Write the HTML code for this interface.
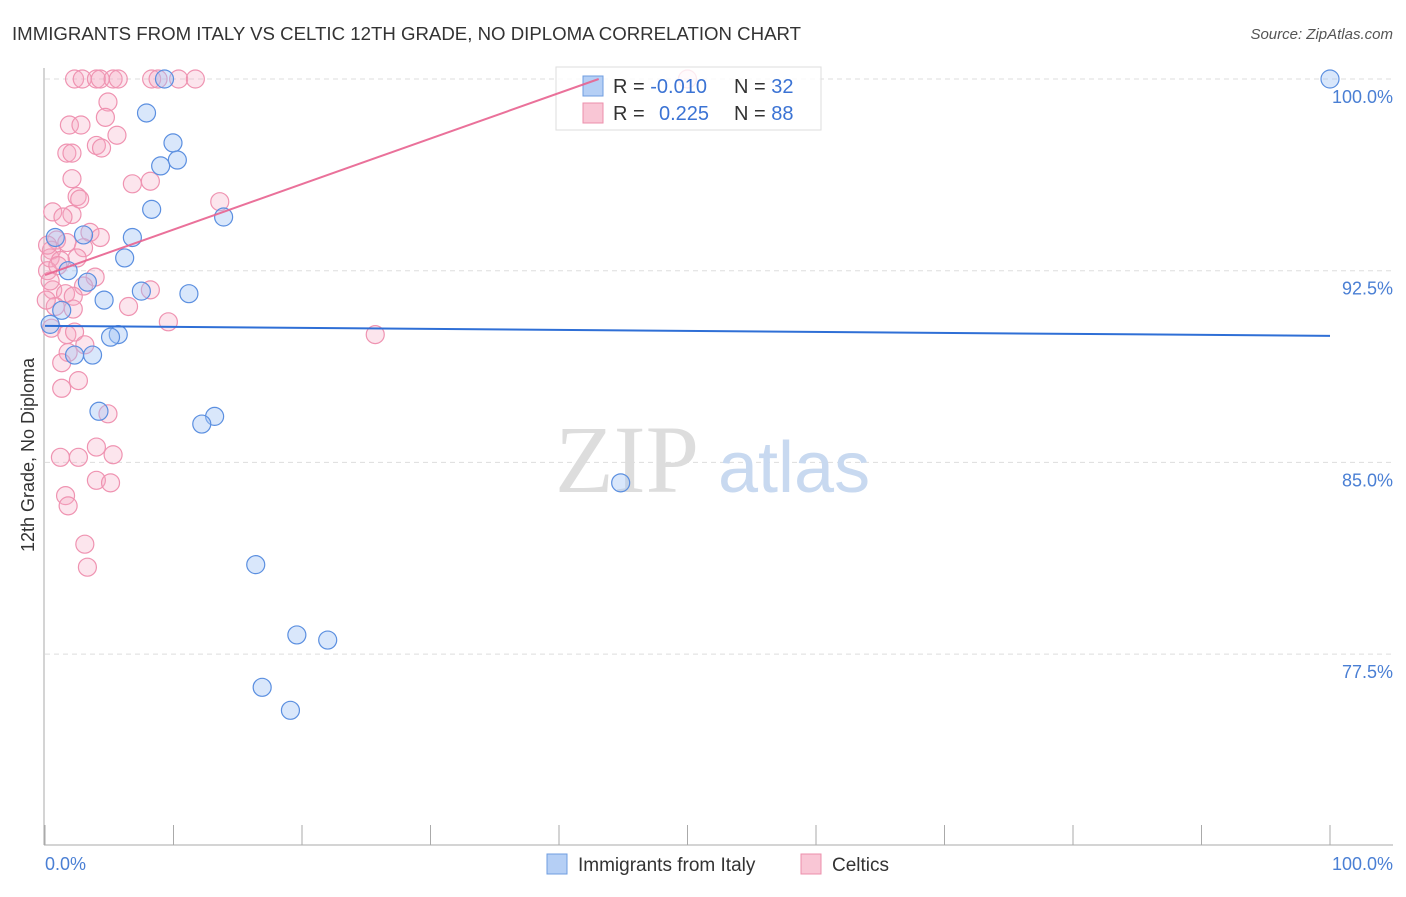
<!DOCTYPE html>
<html><head><meta charset="utf-8"><style>
body{margin:0;background:#fff;font-family:"Liberation Sans",sans-serif}
</style></head><body>
<svg width="1406" height="892" xmlns="http://www.w3.org/2000/svg" font-family="Liberation Sans, sans-serif">
<text x="12" y="40" font-size="18" fill="#333" textLength="789" lengthAdjust="spacingAndGlyphs">IMMIGRANTS FROM ITALY VS CELTIC 12TH GRADE, NO DIPLOMA CORRELATION CHART</text>
<text x="1393" y="39" font-size="15" fill="#555" font-style="italic" text-anchor="end">Source: ZipAtlas.com</text>
<g id="grid"></g>
<text x="555" y="492" font-size="96" fill="#ddd" font-family="Liberation Serif, serif">ZIP</text>
<text x="718" y="492" font-size="72" fill="#c8d9f0">atlas</text>
<line x1="44" y1="68" x2="44" y2="845" stroke="#aaa"/>
<line x1="44" y1="845" x2="1393" y2="845" stroke="#aaa"/>
<text transform="translate(34,455) rotate(-90)" font-size="18" fill="#333" text-anchor="middle">12th Grade, No Diploma</text>
<text x="45" y="870" font-size="18" fill="#4a7fd4">0.0%</text>
<text x="1393" y="870" font-size="18" fill="#4a7fd4" text-anchor="end">100.0%</text>
<g id="pts"></g>
<g>
<rect x="556" y="67" width="265" height="63" fill="#fff" fill-opacity="0.8" stroke="#ddd"/>
<rect x="583" y="76" width="20" height="20" fill="#b5cff5" stroke="#6f9de0"/>
<rect x="583" y="103" width="20" height="20" fill="#f9c6d5" stroke="#ec8fab"/>
<text x="613" y="93" font-size="20" fill="#333">R = <tspan fill="#3b73d4">-0.010</tspan><tspan x="734">N = </tspan><tspan fill="#3b73d4">32</tspan></text>
<text x="613" y="120" font-size="20" fill="#333">R = <tspan x="659" fill="#3b73d4">0.225</tspan><tspan x="734">N = </tspan><tspan fill="#3b73d4">88</tspan></text>
</g>
<g id="lines"></g>
<g>
<rect x="547" y="854" width="20" height="20" fill="#b5cff5" stroke="#6f9de0"/>
<text x="578" y="871" font-size="19" fill="#333">Immigrants from Italy</text>
<rect x="801" y="854" width="20" height="20" fill="#f9c6d5" stroke="#ec8fab"/>
<text x="832" y="871" font-size="19" fill="#333">Celtics</text>
</g>
</svg>
<script>
const yTicks=[100,92.5,85,77.5];
const yTickLabels=["100.0%","92.5%","85.0%","77.5%"];
const xTicks=[0,10,20,30,40,50,60,70,80,90,100];
const blueX=[100,9.3,7.9,9.96,10.3,9.0,8.3,13.9,6.8,3.0,0.8,6.2,1.8,3.3,7.5,11.2,4.6,1.3,0.4,5.7,5.1,2.3,3.7,4.2,13.2,12.2,44.8,16.4,19.6,22.0,16.9,19.1];
const blueY=[100,100,98.67,97.5,96.83,96.6,94.9,94.6,93.8,93.9,93.8,93.0,92.5,92.05,91.7,91.6,91.35,90.95,90.4,90.0,89.9,89.2,89.2,87.0,86.8,86.5,84.2,81.0,78.25,78.05,76.2,75.3];
const pinkX=[2.3,2.9,4.0,4.3,5.3,5.7,8.3,8.8,10.4,11.7,50.0,4.9,4.7,1.9,2.8,5.6,4.0,4.4,1.7,2.1,2.1,6.8,8.2,2.5,2.7,13.6,0.6,2.1,1.4,3.5,4.3,0.9,1.7,3.0,0.5,0.4,2.5,1.2,3.9,3.0,8.2,0.6,1.6,2.2,6.5,0.8,2.2,9.6,0.5,1.7,2.3,3.1,1.8,1.3,2.6,1.3,4.9,25.7,1.2,2.6,4.0,5.3,4.0,5.1,1.6,1.8,3.1,3.3,0.2,0.1,0.4,1.0,0.2];
const pinkY=[100,100,100,100,100,100,100,100,100,100,100,99.1,98.5,98.2,98.2,97.8,97.4,97.3,97.1,97.1,96.1,95.9,96.0,95.4,95.3,95.2,94.8,94.7,94.6,94.0,93.8,93.7,93.6,93.4,93.3,93.0,93.0,92.9,92.25,91.9,91.75,91.75,91.6,91.5,91.1,91.1,91.0,90.5,90.25,90.0,90.1,89.6,89.3,88.9,88.2,87.9,86.9,90.0,85.2,85.2,85.6,85.3,84.3,84.2,83.7,83.3,81.8,80.9,92.5,91.35,92.1,92.7,93.5];
const blueTrend=[90.34,89.95];
const pinkTrend=[92.33,0.178];
const sx=v=>45+v*12.85, sy=v=>79+(100-v)*25.56;
const NS="http://www.w3.org/2000/svg";
function mk(t,a,p){const e=document.createElementNS(NS,t);for(const k in a)e.setAttribute(k,a[k]);p.appendChild(e);return e;}
const grid=document.getElementById('grid');
yTicks.forEach((v,i)=>{
 const l=mk('line',{x1:45,x2:1393,y1:sy(v),y2:sy(v),stroke:'#ddd','stroke-dasharray':'5,4'},grid);
 
 
 const t=mk('text',{x:1393,y:sy(v)+24,'font-size':18,fill:'#4a7fd4','text-anchor':'end'},grid);
 t.textContent=yTickLabels[i];
 
 
});
xTicks.forEach(v=>{
 const l=mk('line',{x1:sx(v),x2:sx(v),y1:825,y2:845,stroke:'#aaa'},grid);
 
 
});
const pts=document.getElementById('pts');
pinkX.forEach((x,i)=>{
 const c=mk('circle',{cx:sx(x),cy:sy(pinkY[i]),r:9,fill:'rgba(246,170,195,0.3)',stroke:'#ef93b1','stroke-width':1.2},pts);
 
 
});
blueX.forEach((x,i)=>{
 const c=mk('circle',{cx:sx(x),cy:sy(blueY[i]),r:9,fill:'rgba(160,196,245,0.4)',stroke:'#5b8fe0','stroke-width':1.2},pts);
 
 
});
const lines=document.getElementById('lines');
const bl=mk('line',{x1:sx(0),y1:sy(blueTrend[0]),x2:sx(100),y2:sy(blueTrend[1]),stroke:'#2f6fd6','stroke-width':2},lines);


let xe=Math.min(100,(100-pinkTrend[0])/pinkTrend[1]);
const pl=mk('line',{x1:sx(0),y1:sy(pinkTrend[0]),x2:sx(xe),y2:sy(pinkTrend[0]+pinkTrend[1]*xe),stroke:'#e8628f','stroke-width':2,'stroke-opacity':0.9},lines);


</script>
</body></html>
